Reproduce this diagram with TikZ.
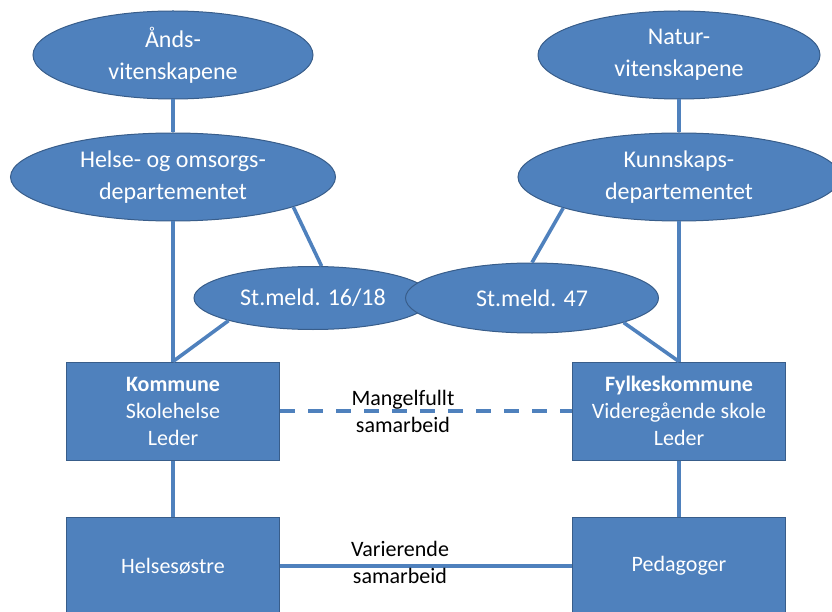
\documentclass[tikz,border=0pt]{standalone}
\usepackage{fontspec}
\setmainfont{Carlito}
\usepackage{xcolor}
\usetikzlibrary{shapes.geometric}
\definecolor{fillblue}{HTML}{4F81BD}
\definecolor{edgeblue}{HTML}{385D8A}

\begin{document}
\begin{tikzpicture}[
    x=1pt, y=-1pt,
    every node/.style={align=center},
    field/.style={ellipse, draw=edgeblue, line width=1pt,
                  fill=fillblue, text=white, inner sep=0pt,
                  font=\fontsize{24}{32}\selectfont},
    unit/.style={rectangle, draw=edgeblue, line width=1pt,
                 fill=fillblue, text=white, inner sep=0pt,
                 minimum width=213pt, minimum height=98pt,
                 font=\fontsize{22}{27}\selectfont},
    link/.style={draw=fillblue, line width=3.6pt},
    note/.style={text=black, font=\fontsize{22}{27}\selectfont},
]
\useasboundingbox (0,0) rectangle (832,612);

\node [field, minimum width=280pt, minimum height=88pt] (aand) at (173,55) {Ånds-\\vitenskapene};
\node [field, minimum width=282pt, minimum height=88pt] (natur) at (679,55) {Natur-\\vitenskapene};
\node [field, minimum width=325pt, minimum height=88pt] (helse) at (173,177) {Helse- og omsorgs-\\departementet};
\node [field, minimum width=322pt, minimum height=88pt] (kunn) at (679,177) {Kunnskaps-\\departementet};
\node [field, minimum width=238pt, minimum height=63pt] (sm16) at (313,298) {St.meld. 16/18};
\node [field, minimum width=253pt, minimum height=70pt] (sm47) at (532,298) {St.meld. 47};

\node [unit] (kommune) at (173,411) {\textbf{Kommune}\\Skolehelse\\Leder};
\node [unit] (fylke) at (679,411) {\textbf{Fylkeskommune}\\Videregående skole\\Leder};
\node [unit] (helsesostre) at (173,566) {Helsesøstre};
\node [unit] (pedagoger) at (679,566) {Pedagoger};

\draw [link] (aand.south) -- (helse.north);
\draw [link] (helse.south) -- (kommune.north);
\draw [link] (helse.-14) -- (sm16.75);
\draw [link] (sm16.195) -- (kommune.north);
\draw [link] (natur.south) -- (kunn.north);
\draw [link] (kunn.south) -- (fylke.north);
\draw [link] (kunn.195) -- (sm47.north);
\draw [link] (sm47.-15) -- (fylke.north);
\draw [link] (kommune) -- (helsesostre);
\draw [link] (fylke) -- (pedagoger);
\draw [link, dash pattern=on 15pt off 13pt] (kommune) -- (fylke);
\draw [link] (helsesostre) -- (pedagoger);

\node [note] (mangel) at (403,411) {Mangelfullt\\samarbeid};
\node [note] (varier) at (400,562) {Varierende\\samarbeid};

\end{tikzpicture}
\end{document}
